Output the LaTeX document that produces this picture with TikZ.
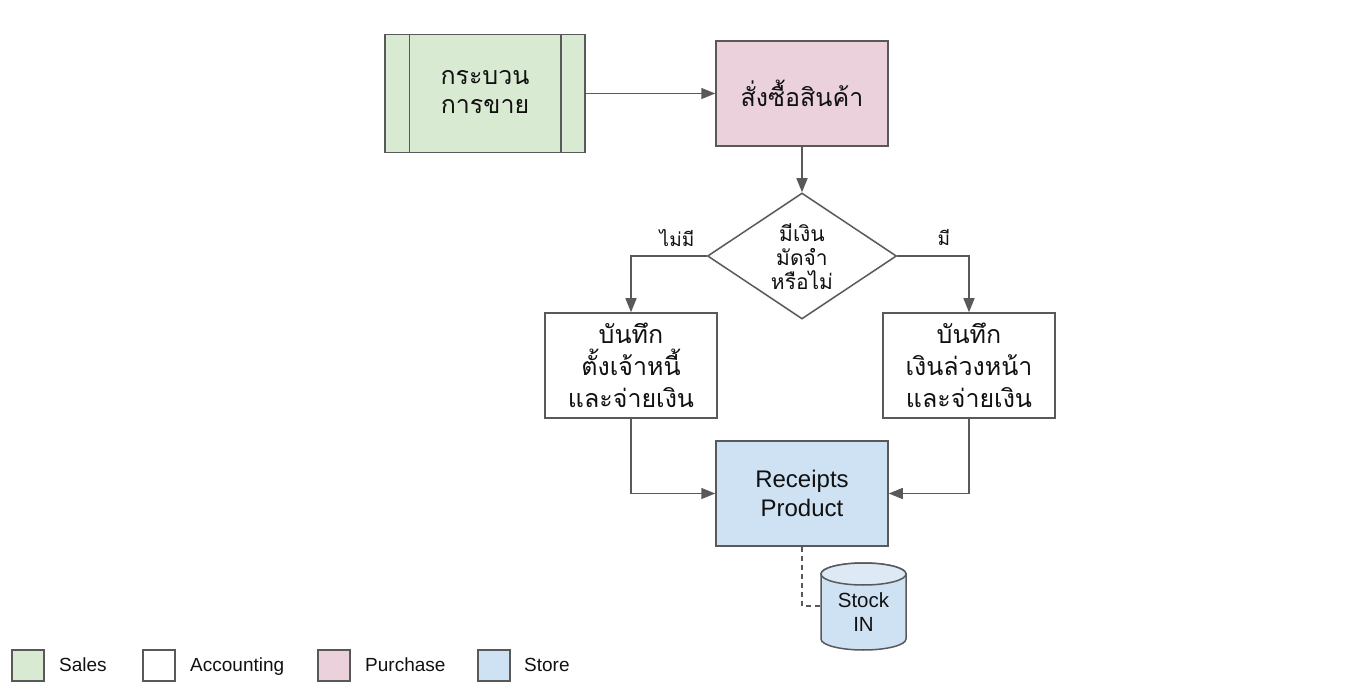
\documentclass[tikz,border=0pt]{standalone}
\usepackage{fontspec}
\setmainfont{Liberation Sans}
\newfontfamily\thai[Script=Thai]{Loma}
\usetikzlibrary{arrows.meta,shapes.geometric}
\definecolor{bd}{HTML}{595959}
\definecolor{salesc}{HTML}{D9EAD3}
\definecolor{purc}{HTML}{EAD1DC}
\definecolor{storec}{HTML}{CFE2F3}
\definecolor{storetop}{HTML}{DDEAF6}
\definecolor{tx}{HTML}{111111}
\tikzset{
  box/.style={draw=bd, line width=1.5pt, minimum width=172pt, minimum height=105pt, inner sep=0pt, align=center, text=tx},
  thaibig/.style={font=\thai\fontsize{25}{29}\selectfont},
  thaibox/.style={font=\thai\fontsize{25}{32}\selectfont},
  latbig/.style={font=\fontsize{24}{29}\selectfont},
  conn/.style={draw=bd, line width=1.5pt, -{Triangle[length=14pt,width=11pt]}},
  dashconn/.style={draw=bd, line width=1.2pt, dashed, dash pattern=on 5pt off 4pt},
  legbox/.style={draw=bd, line width=1.5pt, minimum width=32pt, minimum height=31pt, inner sep=0pt},
  legtxt/.style={anchor=west, font=\fontsize{19}{20}\selectfont, text=tx, inner sep=0pt, text height=14pt, text depth=4pt},
  lbl/.style={font=\thai\fontsize{19}{20}\selectfont, text=tx, inner sep=0pt}
}
\begin{document}
\begin{tikzpicture}[x=1pt,y=-1pt]
\useasboundingbox (0,0) rectangle (1363,692);
% Sales process
\node[box, fill=salesc, minimum width=200pt, minimum height=118pt, thaibig] (sales) at (485,93.5) {\raisebox{-3pt}{\begin{tabular}{@{}c@{}}กระบวน\\การขาย\end{tabular}}};
\draw[bd, line width=1.5pt] ([xshift=25pt]sales.north west) -- ([xshift=25pt]sales.south west);
\draw[bd, line width=1.5pt] ([xshift=-25pt]sales.north east) -- ([xshift=-25pt]sales.south east);
% Purchase order
\node[box, fill=purc, thaibig] (po) at (802,93.5) {สั่งซื้อสินค้า};
% Diamond
\node[draw=bd, line width=1.5pt, diamond, minimum width=189pt, minimum height=126pt, inner sep=0pt, fill=white] (dec) at (802,256) {};
\node[font=\thai\fontsize{21}{24}\selectfont, align=center, text=tx, inner sep=0pt] (dectxt) at (802,256.5) {มีเงิน\\มัดจำ\\หรือไม่};
% Left and right boxes
\node[box, fill=white, thaibox] (left) at (631,365.5) {บันทึก\\ตั้งเจ้าหนี้\\และจ่ายเงิน};
\node[box, fill=white, thaibox] (right) at (969,365.5) {บันทึก\\เงินล่วงหน้า\\และจ่ายเงิน};
% Receipts
\node[box, fill=storec, latbig] (rec) at (802,493.5) {Receipts\\Product};
% Cylinder
\path[draw=bd, line width=1.5pt, fill=storec]
  (821,574) -- (821,639)
  arc[x radius=42.5pt, y radius=11pt, start angle=180, end angle=360]
  -- (906,574)
  arc[x radius=42.5pt, y radius=11pt, start angle=0, end angle=180] -- cycle;
\path[draw=bd, line width=1.5pt, fill=storetop] (863.5,574) ellipse[x radius=42.5pt, y radius=11pt];
\node[minimum width=85pt, minimum height=87pt, inner sep=0pt] (stock) at (863.5,606) {};
\node[inner sep=0pt, align=center, text=tx, font=\fontsize{20.5}{24}\selectfont] (stocktxt) at (863.5,612) {Stock\\IN};
% Connectors
\draw[conn] (sales.east) -- (po.west);
\draw[conn] (po.south) -- (dec.north);
\draw[conn] (dec.west) -| (left.north);
\draw[conn] (dec.east) -| (right.north);
\draw[conn] (left.south) |- (rec.west);
\draw[conn] (right.south) |- (rec.east);
\draw[dashconn] (rec.south) |- (stock.west);
% Branch labels
\node[lbl] (no) at (677,238) {ไม่มี};
\node[lbl] (yes) at (944,238) {มี};
% Legend
\node[legbox, fill=salesc] (l1) at (28,665.5) {};
\node[legtxt] (t1) at (59,666) {Sales};
\node[legbox, fill=white] (l2) at (159,665.5) {};
\node[legtxt] (t2) at (190,666) {Accounting};
\node[legbox, fill=purc] (l3) at (334,665.5) {};
\node[legtxt] (t3) at (365,666) {Purchase};
\node[legbox, fill=storec] (l4) at (494,665.5) {};
\node[legtxt] (t4) at (524,666) {Store};
\end{tikzpicture}
\end{document}
